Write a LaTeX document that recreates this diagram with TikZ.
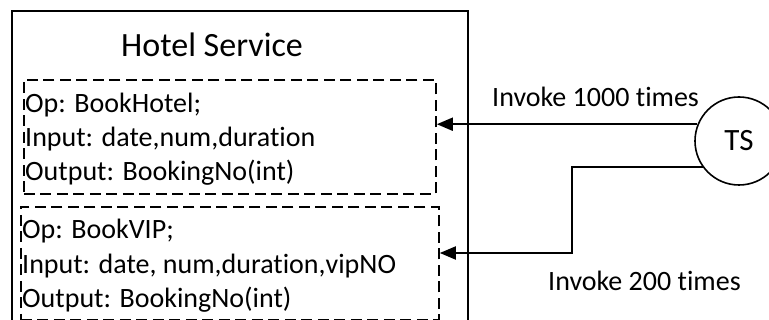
\documentclass[tikz,border=0pt]{standalone}
\usepackage{fontspec}
\setmainfont{Carlito}[Ligatures=CommonOff]
\usetikzlibrary{arrows.meta}
\begin{document}
\begin{tikzpicture}[x=1pt,y=-1pt,
  txt/.style={inner sep=0pt,anchor=base west,font=\fontsize{28}{34}\selectfont},
  opbox/.style={draw,line width=1.8pt,dash pattern=on 11pt off 5.5pt},
  conn/.style={line width=1.9pt,-{Triangle[length=16pt,width=13pt]}}]
\useasboundingbox (0,0) rectangle (769,320);
\clip (0,0) rectangle (769,320);
% outer service box
\draw[line width=1.6pt] (12,11) rectangle (468,340);
\node[inner sep=0pt,anchor=base west,font=\fontsize{34}{40}\selectfont] (title) at (121,57) {Hotel Service};
% operation boxes
\node[opbox,inner sep=0pt,minimum width=412pt,minimum height=114pt,anchor=north west] (box1) at (23,79) {};
\node[opbox,inner sep=0pt,minimum width=418pt,minimum height=113pt,anchor=north west] (box2) at (20,206) {};
\node[txt] (l1) at (25,113) {Op: BookHotel;};
\node[txt] (l2) at (25,147) {Input: date,num,duration};
\node[txt] (l3) at (25,181) {Output: BookingNo(int)};
\node[txt] (m1) at (22,239) {Op: BookVIP;};
\node[txt] (m2) at (22,274) {Input: date, num,duration,vipNO};
\node[txt] (m3) at (22,308) {Output: BookingNo(int)};
% TS
\node[draw,circle,line width=1.6pt,minimum size=88pt,inner sep=0pt,font=\fontsize{31}{36}\selectfont] (ts) at (739,141) {TS};
% connectors
\draw[conn] (ts.158.7) -- (ts.158.7 -| box1.east);
\coordinate (bend) at (572,253);
\draw[conn] (ts.216.2) -| (bend) -- (bend -| box2.east);
\node[txt] (lab1) at (492,107) {Invoke 1000 times};
\node[txt] (lab2) at (548,291) {Invoke 200 times};
\end{tikzpicture}
\end{document}
